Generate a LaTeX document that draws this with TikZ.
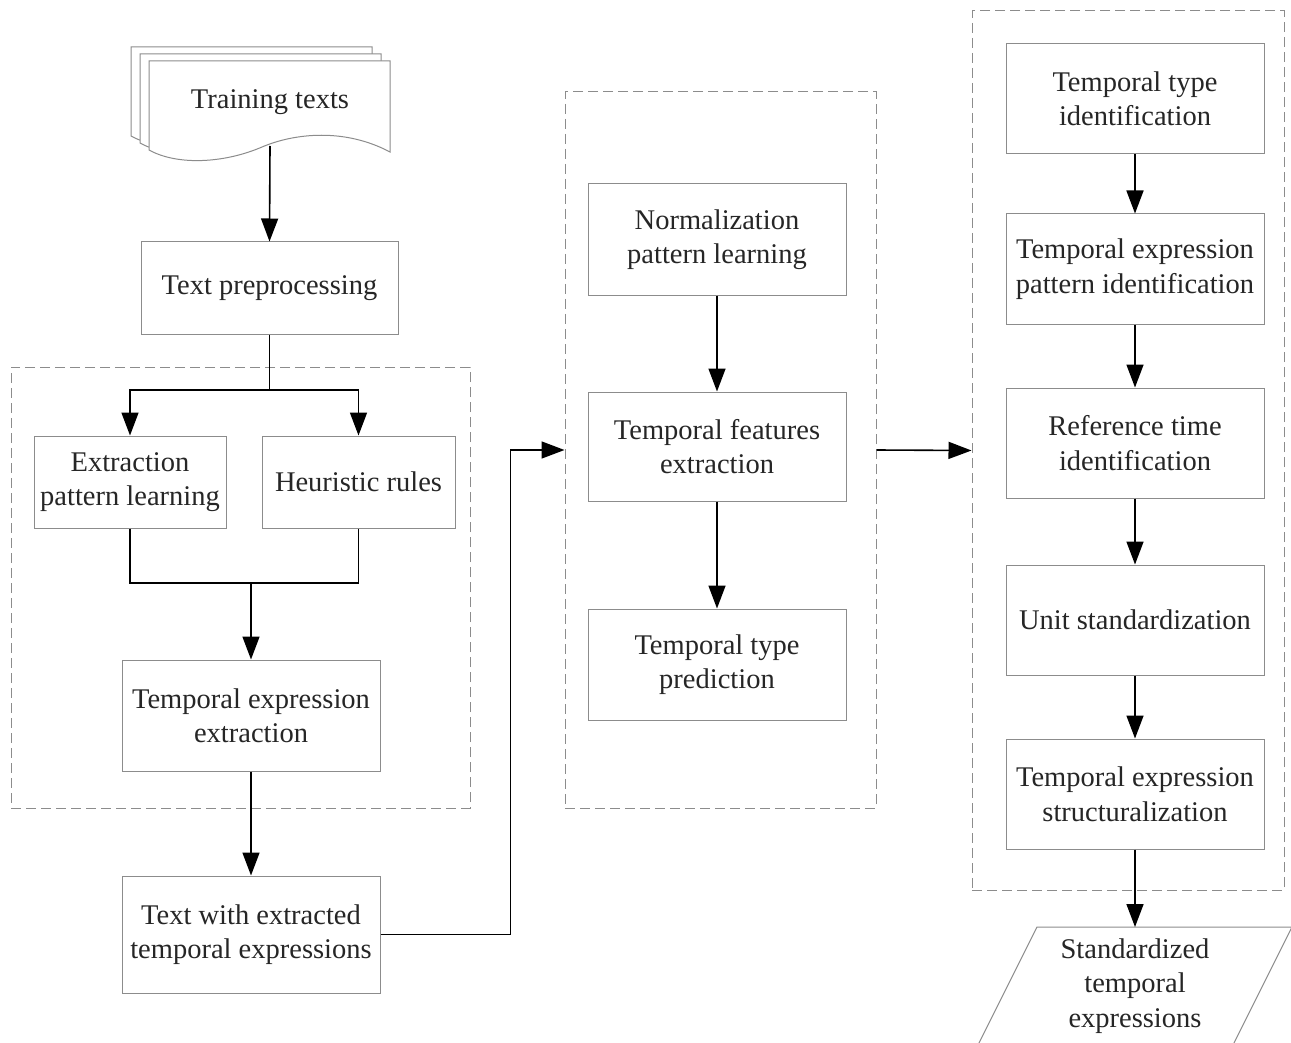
\documentclass[tikz,border=0pt]{standalone}
\usepackage{fontspec}
\setmainfont{Liberation Serif}
\usetikzlibrary{arrows.meta}
\begin{document}
\begin{tikzpicture}[x=1pt,y=-1pt,
  txt/.style={font=\fontsize{28.5}{34.5}\selectfont, align=center, inner sep=0pt, text=black!85},
  boxn/.style={txt, draw=black!45, line width=1pt, fill=white},
  grp/.style={draw=black!45, line width=1pt, dash pattern=on 10pt off 5pt, inner sep=0pt},
  arr/.style={line width=1.6pt, -{Triangle[length=23pt,width=17pt]}},
  ln/.style={line width=1.6pt},
  docsheet/.style={draw=black!45, line width=1pt, fill=white}]
\fill[white] (0,0) rectangle (1291,1043);
\useasboundingbox (0,0) rectangle (1291,1043);

% group frames
\node[grp, minimum width=459pt, minimum height=441pt] (g1) at (240.5,587.5) {};
\node[grp, minimum width=311pt, minimum height=716pt] (g2) at (720.5,450) {};
\node[grp, minimum width=312pt, minimum height=879pt] (g3) at (1128,450.5) {};

% document stack
\foreach \dx/\dy in {-18/-14,-9/-7,0/0}{
  \draw[docsheet, shift={(\dx,\dy)}] (149,61) -- (390,61) -- (390,152)
    .. controls (345,128) and (295,133) .. (262,147)
    .. controls (225,163) and (178,166) .. (149,150) -- cycle;
}
\node[txt] (train) at (270,102) {Training texts};
\coordinate (docbot) at (270,146);

% left column
\node[boxn, minimum width=257pt, minimum height=92pt] (t1) at (269.5,288) {Text preprocessing};
\node[boxn, minimum width=192pt, minimum height=92pt] (t2) at (130,482) {Extraction\\pattern learning};
\node[boxn, minimum width=193pt, minimum height=92pt] (t3) at (358.5,482) {Heuristic rules};
\node[boxn, minimum width=258pt, minimum height=111pt] (t4) at (251,715.5) {Temporal expression\\extraction};
\node[boxn, minimum width=258pt, minimum height=117pt] (t5) at (251,934.5) {Text with extracted\\temporal expressions};

% middle column
\node[boxn, minimum width=258pt, minimum height=111pt] (m1) at (717,239.5) {Normalization\\pattern learning};
\node[boxn, minimum width=258pt, minimum height=109pt] (m2) at (717,446.5) {Temporal features\\extraction};
\node[boxn, minimum width=258pt, minimum height=111pt] (m3) at (717,664.5) {Temporal type\\prediction};

% right column
\node[boxn, minimum width=258pt, minimum height=110pt] (r1) at (1135,99) {Temporal type\\identification};
\node[boxn, minimum width=258pt, minimum height=110pt] (r2) at (1135,269) {Temporal expression\\pattern identification};
\node[boxn, minimum width=258pt, minimum height=110pt] (r3) at (1135,443) {Reference time\\identification};
\node[boxn, minimum width=258pt, minimum height=110pt] (r4) at (1135,620) {Unit standardization};
\node[boxn, minimum width=258pt, minimum height=110pt] (r5) at (1135,794) {Temporal expression\\structuralization};

% output parallelogram
\node[txt] (out) at (1135,986) {Standardized\\temporal\\expressions};
\coordinate (outtop) at (1135,927);
\draw[draw=black!45, line width=1pt] (975.5,1050) -- (1037,927) -- (1292,927) -- (1230.5,1050);

% connectors
\draw[arr] (docbot) -- (t1.north);
\coordinate (br) at (269.5,390);
\draw[ln] (t1.south) -- (br);
\draw[arr] (br) -| (t2.north);
\draw[arr] (br) -| (t3.north);
\coordinate (mg) at (251,583);
\draw[ln] (t2.south) -- (t2.south |- mg) -- (t3.south |- mg) -- (t3.south);
\draw[arr] (mg) -- (t4.north);
\draw[arr] (t4.south) -- (t5.north);
\draw[arr] (t5.east) -- ++(130,0) |- (g2.west);

\draw[arr] (m1.south) -- (m2.north);
\draw[arr] (m2.south) -- (m3.north);
\draw[arr] (g2.east) -- (g3.west);

\draw[arr] (r1.south) -- (r2.north);
\draw[arr] (r2.south) -- (r3.north);
\draw[arr] (r3.south) -- (r4.north);
\draw[arr] (r4.south) -- (r5.north);
\draw[arr] (r5.south) -- (outtop);
\end{tikzpicture}
\end{document}
